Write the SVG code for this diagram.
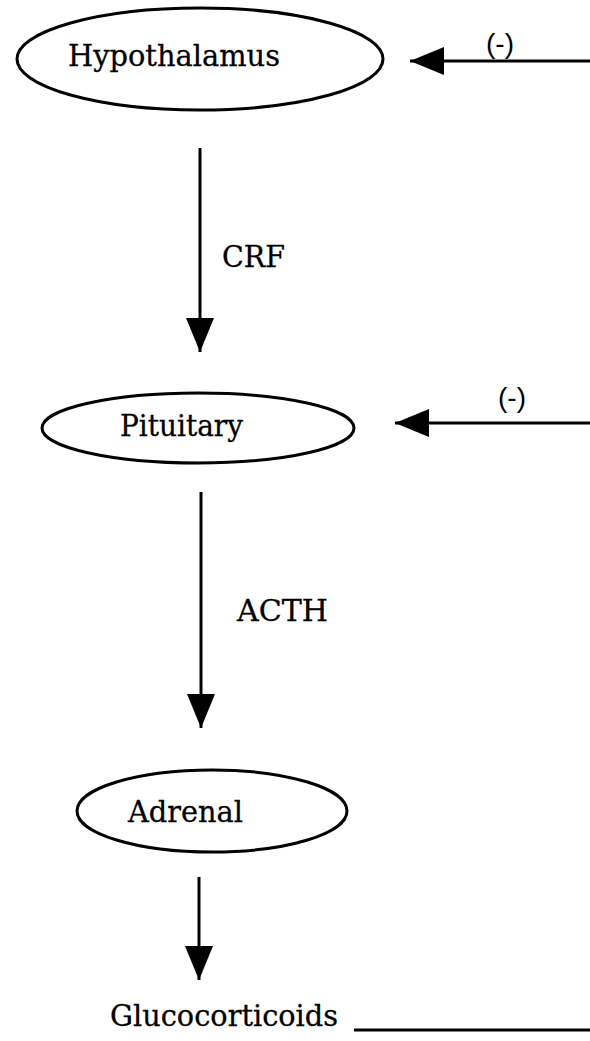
<svg xmlns="http://www.w3.org/2000/svg" width="590" height="1041" viewBox="0 0 590 1041">
<style>
  .node { fill: #fff; stroke: #000; stroke-width: 3; }
  .lbl { font-family: "DejaVu Serif", "Liberation Serif", serif; font-size: 30px; fill: #000; stroke: #000; stroke-width: 0.3; }
  .neg { font-family: "Liberation Sans", Arial, sans-serif; font-size: 28px; fill: #000; }
  .conn { stroke: #000; stroke-width: 3; fill: none; }
</style>
<defs>
  <marker id="ah" markerUnits="userSpaceOnUse" markerWidth="34" markerHeight="28" refX="34" refY="14" orient="auto">
    <path d="M0,0 L34,14 L0,28 Z" fill="#000"/>
  </marker>
</defs>
<rect width="590" height="1041" fill="#fff"/>
<g id="connectors">
  <line class="conn" x1="200" y1="148" x2="200" y2="352" marker-end="url(#ah)"/>
  <line class="conn" x1="201" y1="492" x2="201" y2="728" marker-end="url(#ah)"/>
  <line class="conn" x1="199" y1="877" x2="199" y2="980" marker-end="url(#ah)"/>
  <line class="conn" x1="590" y1="61" x2="410" y2="61" marker-end="url(#ah)"/>
  <line class="conn" x1="590" y1="423" x2="395" y2="423" marker-end="url(#ah)"/>
  <line class="conn" x1="354" y1="1030" x2="590" y2="1030"/>
  <text class="lbl" x="222" y="267" textLength="63" lengthAdjust="spacingAndGlyphs">CRF</text>
  <text class="lbl" x="237" y="621" textLength="91" lengthAdjust="spacingAndGlyphs">ACTH</text>
  <text class="neg" x="500" y="53" text-anchor="middle">(-)</text>
  <text class="neg" x="512" y="407" text-anchor="middle">(-)</text>
</g>
<g id="hypothalamus">
  <ellipse class="node" cx="200" cy="59" rx="183" ry="51"/>
  <text class="lbl" x="68" y="66" textLength="212" lengthAdjust="spacingAndGlyphs">Hypothalamus</text>
</g>
<g id="pituitary">
  <ellipse class="node" cx="198" cy="428" rx="156" ry="35"/>
  <text class="lbl" x="120" y="436" textLength="123" lengthAdjust="spacingAndGlyphs">Pituitary</text>
</g>
<g id="adrenal">
  <ellipse class="node" cx="212" cy="811" rx="135" ry="41"/>
  <text class="lbl" x="128" y="822" textLength="115" lengthAdjust="spacingAndGlyphs">Adrenal</text>
</g>
<g id="glucocorticoids">
  <text class="lbl" x="110" y="1026" textLength="228" lengthAdjust="spacingAndGlyphs">Glucocorticoids</text>
</g>
</svg>
